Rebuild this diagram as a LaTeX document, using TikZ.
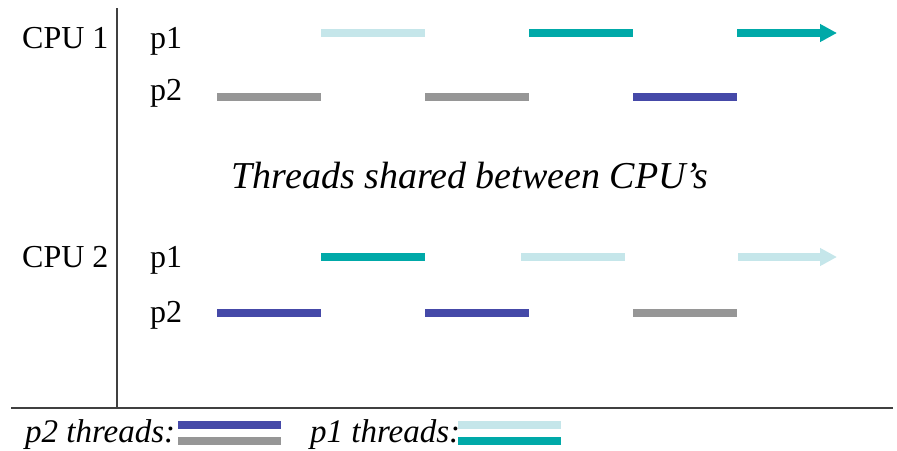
\documentclass[tikz,border=0pt]{standalone}
\usepackage{fontspec}
\setmainfont{Liberation Serif}
\usetikzlibrary{arrows.meta}
\definecolor{lcyan}{HTML}{C5E6EA}
\definecolor{teal}{HTML}{00A9A8}
\definecolor{tgray}{HTML}{969696}
\definecolor{tblue}{HTML}{4549A8}
\tikzset{
  bar/.style={line width=7.5pt},
  arr/.style={line width=7.5pt,-{Triangle[length=17pt,width=17pt]}},
  lbl/.style={inner sep=0pt,anchor=base west,font=\fontsize{32}{36}\selectfont},
  leg/.style={inner sep=0pt,anchor=base west,font=\fontsize{33}{36}\selectfont\itshape},
  axisline/.style={line width=1.3pt,draw=black!75},
}
\begin{document}
\begin{tikzpicture}[x=1pt,y=-1pt]
\useasboundingbox (0,0) rectangle (897,450);
% axes
\draw[axisline] (117,8) -- (117,408);
\draw[axisline] (11,408) -- (893,408);
% labels
\node[lbl] (cpu1) at (22,48) {CPU 1};
\node[lbl] (c1p1) at (150,48) {p1};
\node[lbl] (c1p2) at (150,100) {p2};
\node[lbl] (cpu2) at (22,267) {CPU 2};
\node[lbl] (c2p1) at (150,267) {p1};
\node[lbl] (c2p2) at (150,322) {p2};
\node[inner sep=0pt,anchor=base,font=\fontsize{38}{42}\selectfont\itshape] (mid) at (470,188) {Threads shared between CPU’s};
% CPU1 p1
\draw[bar,lcyan] (321,33) -- (425,33);
\draw[bar,teal] (529,33) -- (633,33);
\draw[arr,teal] (737,33) -- (837,33);
% CPU1 p2
\draw[bar,tgray] (217,97) -- (321,97);
\draw[bar,tgray] (425,97) -- (529,97);
\draw[bar,tblue] (633,97) -- (737,97);
% CPU2 p1
\draw[bar,teal] (321,257) -- (425,257);
\draw[bar,lcyan] (521,257) -- (625,257);
\draw[arr,lcyan] (738,257) -- (837,257);
% CPU2 p2
\draw[bar,tblue] (217,313) -- (321,313);
\draw[bar,tblue] (425,313) -- (529,313);
\draw[bar,tgray] (633,313) -- (737,313);
% legend
\node[leg] (lg2) at (25,442) {p2 threads:};
\draw[bar,tblue] (178,425) -- (281,425);
\draw[bar,tgray] (178,441) -- (281,441);
\node[leg] (lg1) at (310,442) {p1 threads:};
\draw[bar,lcyan] (458,425) -- (561,425);
\draw[bar,teal] (458,441) -- (561,441);
\end{tikzpicture}
\end{document}
